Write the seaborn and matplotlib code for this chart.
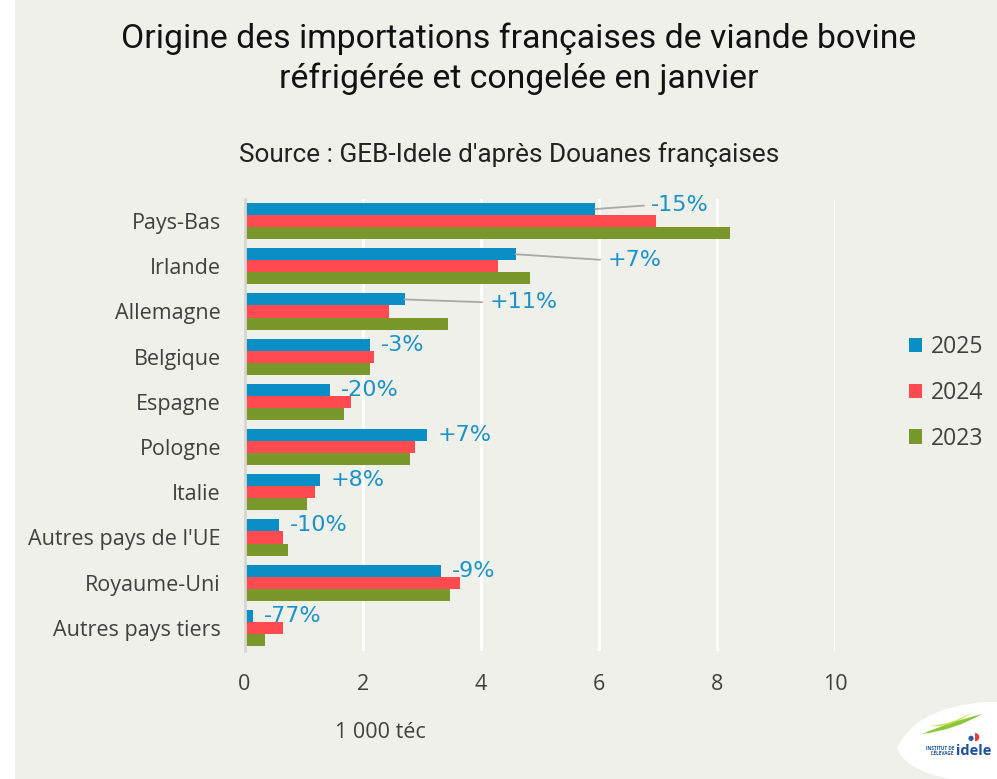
import numpy as np
import pandas as pd
import matplotlib
matplotlib.use("Agg")
import matplotlib.pyplot as plt
from matplotlib import font_manager as fm
from matplotlib.patches import PathPatch, Rectangle
from matplotlib.path import Path
import seaborn as sns

# ---- data (1 000 téc, January imports) ----
pays = ["Pays-Bas", "Irlande", "Allemagne", "Belgique", "Espagne", "Pologne",
        "Italie", "Autres pays de l'UE", "Royaume-Uni", "Autres pays tiers"]
annees = ["2025", "2024", "2023"]
v2025 = [5.94, 4.59, 2.71, 2.13, 1.44, 3.09, 1.28, 0.58, 3.33, 0.15]
v2024 = [6.97, 4.29, 2.44, 2.20, 1.81, 2.89, 1.19, 0.645, 3.65, 0.66]
v2023 = [8.22, 4.84, 3.45, 2.13, 1.68, 2.81, 1.06, 0.74, 3.48, 0.35]
x_ticks = [0, 2, 4, 6, 8, 10]

titre = "Origine des importations françaises de viande bovine\nréfrigérée et congelée en janvier"
source = "Source : GEB-Idele d'après Douanes françaises"
unite = "1 000 téc"

df = pd.DataFrame({
    "pays": pays * 3,
    "annee": [a for a in annees for _ in pays],
    "valeur": v2025 + v2024 + v2023,
})


def pick_font(*names):
    for n in names:
        try:
            fm.findfont(fm.FontProperties(family=n), fallback_to_default=False)
            return n
        except ValueError:
            continue
    return "DejaVu Sans"


BG = "#eff0e9"
TXT = "#404040"
BLUE, RED, GREEN = "#098fc5", "#ff4b50", "#7a972c"
LABEL_BLUE = "#1b93c8"

sns.set_theme(style="whitegrid", rc={
    "axes.facecolor": BG, "figure.facecolor": BG,
    "grid.color": "white", "grid.linewidth": 2.0,
})
body = pick_font("Open Sans", "Lato", "Noto Sans", "DejaVu Sans")
head = pick_font("Roboto", "Open Sans", "DejaVu Sans")
plt.rcParams["font.family"] = [body, "DejaVu Sans"]

W, H = 997, 779
fig = plt.figure(figsize=(W / 100, H / 100), dpi=100)
fig.patch.set_facecolor(BG)
# white strip on the left edge
fig.add_artist(Rectangle((0, 0), 15 / W, 1, transform=fig.transFigure,
                         facecolor="white", edgecolor="none", zorder=-5))

ax = fig.add_axes([244.5 / W, 1 - 650.5 / H, (835 - 244.5) / W, (650.5 - 198.5) / H])
sns.barplot(data=df, y="pays", x="valeur", hue="annee", hue_order=annees,
            order=pays, palette=[BLUE, RED, GREEN], orient="h", width=0.8,
            saturation=1, linewidth=0, ax=ax)

ax.set_xlim(0, 10)
ax.set_xticks(x_ticks)
ax.set_xlabel("")
ax.set_ylabel("")
ax.grid(axis="y", visible=False)
ax.grid(axis="x", color="white", linewidth=2.0)
ax.set_axisbelow(True)
for s in ["top", "right", "bottom"]:
    ax.spines[s].set_visible(False)
ax.spines["left"].set_color("#d6d6d0")
ax.spines["left"].set_linewidth(2.0)
ax.tick_params(axis="x", length=0, pad=17, labelsize=15.5, labelcolor=TXT)
ax.tick_params(axis="y", length=0, pad=17, labelsize=15.5, labelcolor=TXT)

# variation 2025 / 2024 next to each blue bar
offsets = {0: (56, 4), 1: (92, -6), 2: (85, -3)}
bars25 = ax.containers[0]
for i, (bar, a, b) in enumerate(zip(bars25, v2025, v2024)):
    lab = f"{round((a / b - 1) * 100):+d}%"
    xe = bar.get_width()
    yc = bar.get_y() + bar.get_height() / 2
    dx, dy = offsets.get(i, (11, 0))
    kw = dict(xy=(xe, yc), xytext=(dx, dy), textcoords="offset pixels",
              ha="left", va="center", fontsize=16, color=LABEL_BLUE,
              family="DejaVu Sans")
    if i in offsets:
        kw["arrowprops"] = dict(arrowstyle="-", color="#a8a8a8", lw=1.3,
                                shrinkA=3, shrinkB=0, relpos=(0, 0.5))
    ax.annotate(lab, **kw)

# legend on the right
handles, labels = ax.get_legend_handles_labels()
ax.legend(handles, labels, loc="center left", bbox_to_anchor=(888 / W, 1 - 393 / H),
          bbox_transform=fig.transFigure, frameon=False, fontsize=16.5,
          handlelength=0.6, handleheight=0.6, handletextpad=0.35,
          labelspacing=0.95, labelcolor=TXT)

fig.text(519 / W, 1 - 58.5 / H, titre, ha="center", va="center", fontsize=24.3,
         family=[head, "DejaVu Sans"], color="#111111", linespacing=1.3)
fig.text(509 / W, 1 - 155 / H, source, ha="center", va="center", fontsize=18.8,
         family=[head, "DejaVu Sans"], color="#222222")
fig.text(335 / W, 1 - 733 / H, unite, ha="left", va="center", fontsize=15.5, color=TXT)

# logo badge, bottom right
def fig_path(pts, codes, **kw):
    verts = [(x / W, 1 - y / H) for x, y in pts]
    fig.add_artist(PathPatch(Path(verts, codes), transform=fig.transFigure,
                             edgecolor="none", **kw))

C3, L, M, CL = Path.CURVE3, Path.LINETO, Path.MOVETO, Path.CLOSEPOLY
fig_path([(897, 748), (915, 708), (985, 702), (997, 702), (997, 779), (950, 779),
          (905, 770), (897, 748), (897, 748)],
         [M, C3, C3, L, L, L, C3, C3, CL], facecolor="white", zorder=3)
fig_path([(922, 734), (950, 722), (982, 714), (955, 730), (922, 734), (922, 734)],
         [M, C3, C3, C3, C3, CL], facecolor="#8cc63f", zorder=4)
fig_path([(930, 726), (952, 728), (972, 712), (954, 724), (930, 726), (930, 726)],
         [M, C3, C3, C3, C3, CL], facecolor="#c6df3a", zorder=4)
fig.text(956 / W, 1 - 751 / H, "idele", ha="left", va="center", fontsize=10.5,
         fontweight="bold", color="#1c4f9c", zorder=5)
fig.text(954 / W, 1 - 751 / H, "INSTITUT DE\nL'ÉLEVAGE", ha="right", va="center",
         fontsize=3.4, fontweight="bold", color="#1c4f9c", linespacing=1.0, zorder=5)
fig.text(977 / W, 1 - 737 / H, "◗", ha="center", va="center", fontsize=8,
         color="#e63a3a", family="DejaVu Sans", zorder=5)
fig.text(971 / W, 1 - 738 / H, "●", ha="center", va="center", fontsize=5,
         color="#2a5fae", family="DejaVu Sans", zorder=5)

fig.savefig("out.png", dpi=100, facecolor=BG)
